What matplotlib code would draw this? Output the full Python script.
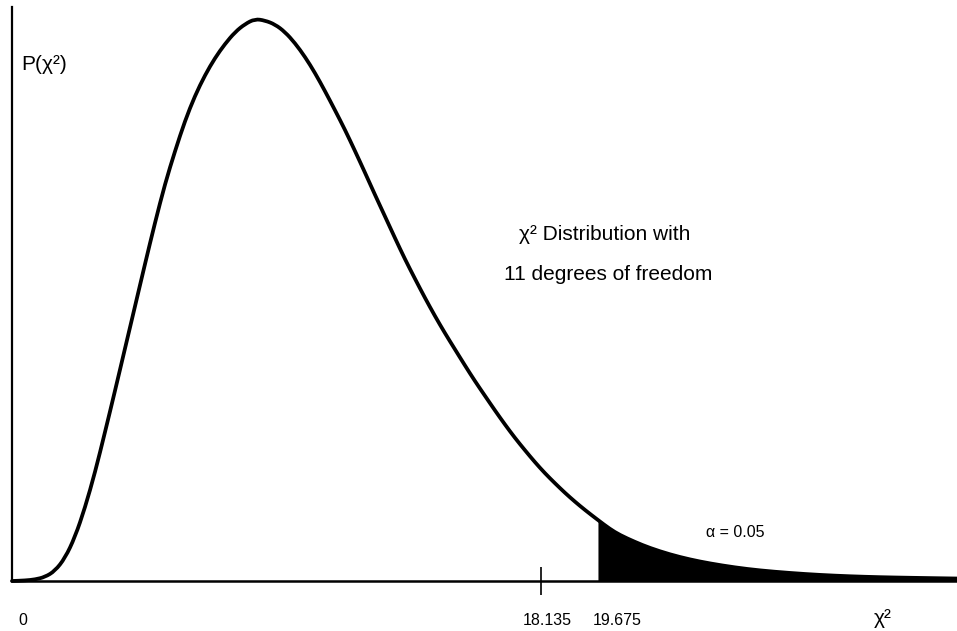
import numpy as np
import matplotlib
matplotlib.use("Agg")
import matplotlib.pyplot as plt
from matplotlib.path import Path
from matplotlib.patches import PathPatch

# ==========================================================
# Curve (height in % of the peak).
# The sketch is not to scale: the shaded tail starts a bit
# right of where 19.675 would fall on a linear axis.
# ==========================================================

curve_x = [0.00, 0.45, 0.79, 1.13, 1.47, 1.82, 2.16, 2.50, 2.85, 3.19,
           3.53, 3.87, 4.22, 4.56, 4.90, 5.25, 5.59, 5.93, 6.27, 6.62,
           6.96, 7.30, 7.65, 7.99, 8.33, 8.67, 9.02, 9.36, 9.70, 10.05,
           10.39, 10.73, 11.07, 11.42, 11.76, 12.10, 12.44, 12.79, 13.13, 13.47,
           13.82, 14.16, 14.50, 14.84, 15.19, 15.53, 15.87, 16.22, 16.56, 16.90,
           17.24, 17.59, 17.93, 18.27, 18.62, 18.96, 19.30, 19.64, 20.09, 20.50,
           20.84, 21.36, 21.87, 22.56, 23.24, 23.93, 24.79, 25.64, 26.67, 27.70,
           28.73, 29.76, 30.79, 32.40]
curve_y = [0.00, 0.09, 0.27, 0.71, 1.78, 4.09, 7.82, 12.97, 19.36, 26.47,
           33.75, 41.21, 48.85, 56.31, 63.59, 70.60, 76.38, 81.71, 86.15, 89.88,
           92.90, 95.38, 97.51, 98.93, 99.82, 99.56, 98.85, 97.51, 95.56, 93.07,
           90.23, 87.03, 83.66, 80.11, 76.38, 72.56, 68.65, 64.74, 60.92, 57.19,
           53.64, 50.27, 47.07, 44.05, 41.12, 38.28, 35.52, 32.86, 30.28, 27.80,
           25.44, 23.20, 21.10, 19.15, 17.34, 15.65, 14.09, 12.63, 10.83, 9.24,
           8.17, 6.93, 5.86, 4.71, 3.82, 3.11, 2.40, 1.87, 1.42, 1.07,
           0.83, 0.67, 0.57, 0.44]

tick_value = 18.135
shade_start = 20.09
tick_labels = ["0", "18.135", "19.675"]
tick_label_x = [0.38, 18.34, 20.74]
alpha_text = "α = 0.05"
title_lines = ["χ² Distribution with", "11 degrees of freedom"]

curve_x = np.array(curve_x)
curve_y = np.array(curve_y)

plt.rcParams["font.family"] = ["Liberation Sans", "DejaVu Sans"]

fig = plt.figure(figsize=(9.57, 6.31), dpi=100)
ax = fig.add_axes([12 / 957, 50 / 631, 945 / 957, 574 / 631])

# shaded tail
tail = curve_x >= shade_start
ax.fill_between(curve_x[tail], 0, curve_y[tail], color="black", lw=0)

# smooth stroke through the read points (quadratic pieces via midpoints)
pts = np.column_stack([curve_x, curve_y])
mids = (pts[:-1] + pts[1:]) / 2
verts = [pts[0], mids[0]]
codes = [Path.MOVETO, Path.LINETO]
for i in range(1, len(pts) - 1):
    verts += [pts[i], mids[i]]
    codes += [Path.CURVE3, Path.CURVE3]
verts.append(pts[-1])
codes.append(Path.LINETO)
ax.add_patch(PathPatch(Path(verts, codes), fill=False, edgecolor="black",
                       lw=2.7, joinstyle="round", capstyle="round",
                       clip_on=False))

ax.set_xlim(0, 32.40)
ax.set_ylim(0, 101.95)

for side in ["top", "right"]:
    ax.spines[side].set_visible(False)
ax.spines["left"].set_linewidth(1.6)
ax.spines["bottom"].set_linewidth(1.8)

ax.set_xticks([tick_value])
ax.set_xticklabels([])
ax.set_yticks([])
ax.tick_params(axis="x", direction="inout", length=20, width=1.2)

# labels under the axis
for lab, xp in zip(tick_labels, tick_label_x):
    ax.text(xp, -7.1, lab, ha="center", va="center", fontsize=11.5,
            clip_on=False)
ax.text(29.86, -6.6, "χ²", ha="center", va="center", fontsize=15,
        clip_on=False)

ax.text(0.31, 91.7, "P(χ²)", ha="left", va="center", fontsize=15)

ax.text(20.33, 61.6, title_lines[0], ha="center", va="center", fontsize=15)
ax.text(20.43, 54.4, title_lines[1], ha="center", va="center", fontsize=15)

ax.text(24.79, 8.7, alpha_text, ha="center", va="center", fontsize=11.5)

fig.savefig("out.png", dpi=100)
